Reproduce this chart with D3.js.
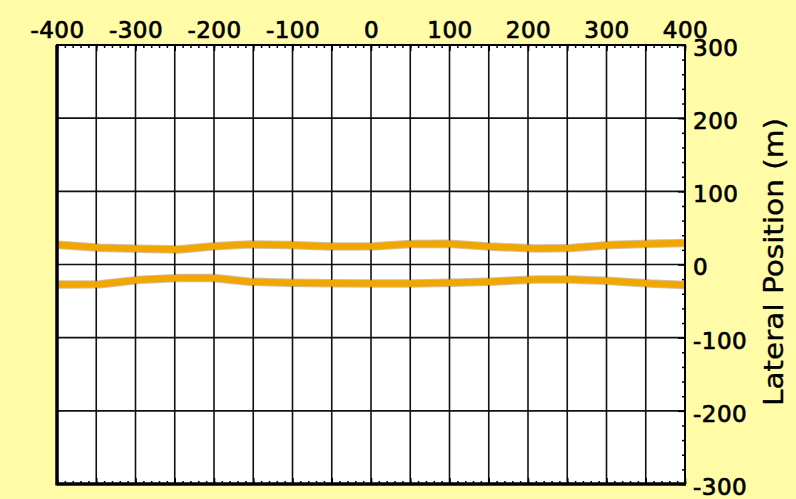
<!DOCTYPE html>
<html>
<head>
<meta charset="utf-8">
<script src="https://cdn.jsdelivr.net/npm/d3@7"></script>
<style>
  html, body { margin: 0; padding: 0; background: #FFFBA6; }
  svg { display: block; }
  text { font-family: "DejaVu Sans", sans-serif; fill: #000; }
</style>
</head>
<body>
<svg id="chart" width="796" height="499"></svg>
<script>
// Along-track position (m) of each sampled point on the two edge traces
const alongTrack = [-400, -345, -295, -245, -200, -155, -105, -50, 5, 50, 100, 150, 210, 255, 305, 355, 400];
// Lateral position (m) of the upper edge
const upperEdge = [27, 23, 21.5, 20.5, 25, 27.5, 26.5, 24.5, 25, 28, 28.5, 24.5, 22, 22.5, 26.5, 28.5, 29.5];
// Lateral position (m) of the lower edge
const lowerEdge = [-27.5, -27, -21, -18.5, -18.5, -23.5, -25, -25.5, -26, -26, -25, -23.5, -20.5, -20.5, -22.5, -26, -28];

const xLabelTicks = [-400, -300, -200, -100, 0, 100, 200, 300, 400];
const yLabelTicks = [-300, -200, -100, 0, 100, 200, 300];
const xGridTicks = d3.range(-400, 401, 50);
const yGridTicks = [-200, -100, 0, 100, 200];
const xMinorTicks = d3.range(-400, 401, 10);
const yMinorTicks = d3.range(-300, 301, 20);

const svg = d3.select("#chart");
const plotLeft = 57, plotRight = 685, plotTop = 45, plotBottom = 484;
const labelFont = "'DejaVu Sans', sans-serif";

const x = d3.scaleLinear().domain([-400, 400]).range([plotLeft, plotRight]);
const y = d3.scaleLinear().domain([-300, 300]).range([plotBottom, plotTop]);

svg.append("rect").attr("x", 0).attr("y", 0).attr("width", 796).attr("height", 499).attr("fill", "#FFFBA6");
svg.append("rect").attr("x", plotLeft).attr("y", plotTop)
  .attr("width", plotRight - plotLeft).attr("height", plotBottom - plotTop).attr("fill", "#FFFFFF");

// grid
const grid = svg.append("g").attr("stroke", "#111").attr("stroke-width", 1.6);
grid.selectAll("line.v").data(xGridTicks).join("line").attr("class", "v")
  .attr("x1", d => x(d)).attr("x2", d => x(d)).attr("y1", plotTop).attr("y2", plotBottom);
grid.selectAll("line.h").data(yGridTicks).join("line").attr("class", "h")
  .attr("y1", d => y(d)).attr("y2", d => y(d)).attr("x1", plotLeft).attr("x2", plotRight);

// edge traces
const line = d3.line().x((d, i) => x(alongTrack[i])).y(d => y(d)).curve(d3.curveLinear);
[upperEdge, lowerEdge].forEach(series => {
  svg.append("path").attr("d", line(series)).attr("fill", "none")
    .attr("stroke", "#8a6410").attr("stroke-opacity", 0.4).attr("stroke-width", 8.5);
  svg.append("path").attr("d", line(series)).attr("fill", "none")
    .attr("stroke", "#F2A600").attr("stroke-width", 6.5);
});

// tick marks, pointing into the plot
function tickAxis(axis, tx, ty) {
  const g = svg.append("g").attr("transform", `translate(${tx},${ty})`).call(axis);
  g.select(".domain").remove();
  g.selectAll(".tick line").attr("stroke", "#000").attr("stroke-width", 1.5);
  g.selectAll(".tick text").remove();
  return g;
}
tickAxis(d3.axisBottom(x).tickValues(xMinorTicks).tickSize(3).tickFormat(""), 0, plotTop);
tickAxis(d3.axisBottom(x).tickValues(xGridTicks).tickSize(6).tickFormat(""), 0, plotTop);
tickAxis(d3.axisTop(x).tickValues(xMinorTicks).tickSize(3).tickFormat(""), 0, plotBottom);
tickAxis(d3.axisTop(x).tickValues(xGridTicks).tickSize(6).tickFormat(""), 0, plotBottom);
tickAxis(d3.axisLeft(y).tickValues(yMinorTicks).tickSize(3).tickFormat(""), plotRight, 0);
tickAxis(d3.axisLeft(y).tickValues(yLabelTicks).tickSize(7).tickFormat(""), plotRight, 0);

// frame
svg.append("rect").attr("x", plotLeft).attr("y", plotTop)
  .attr("width", plotRight - plotLeft).attr("height", plotBottom - plotTop)
  .attr("fill", "none").attr("stroke", "#000").attr("stroke-width", 2);
svg.append("line").attr("x1", plotLeft).attr("x2", plotLeft).attr("y1", plotTop).attr("y2", plotBottom + 1.5)
  .attr("stroke", "#000").attr("stroke-width", 3.5);
svg.append("line").attr("x1", plotLeft).attr("x2", plotRight + 1).attr("y1", plotBottom).attr("y2", plotBottom)
  .attr("stroke", "#000").attr("stroke-width", 3.5);

// labels (a thin outline gives the heavier stroke of the tick numerals)
const topAxis = svg.append("g").attr("transform", `translate(0,${plotTop})`)
  .call(d3.axisTop(x).tickValues(xLabelTicks).tickSize(0).tickPadding(7).tickFormat(d => String(d)));
topAxis.select(".domain").remove();
topAxis.selectAll("text").attr("font-size", 23).attr("letter-spacing", "0.5px")
  .attr("stroke", "#000").attr("stroke-width", 0.7)
  .style("font-family", labelFont);

const rightAxis = svg.append("g").attr("transform", `translate(${plotRight},0)`)
  .call(d3.axisRight(y).tickValues(yLabelTicks).tickSize(0).tickPadding(8).tickFormat(d => String(d)));
rightAxis.select(".domain").remove();
rightAxis.selectAll("text").attr("font-size", 23).attr("letter-spacing", "0.5px")
  .attr("stroke", "#000").attr("stroke-width", 0.7)
  .attr("dy", "0.45em")
  .style("font-family", labelFont);

svg.append("text")
  .attr("transform", "translate(783,262) rotate(-90)")
  .attr("text-anchor", "middle")
  .attr("font-size", 26)
  .attr("textLength", 288)
  .attr("lengthAdjust", "spacingAndGlyphs")
  .attr("stroke", "#000").attr("stroke-width", 0.35)
  .style("font-family", labelFont)
  .text("Lateral Position (m)");
</script>
</body>
</html>
